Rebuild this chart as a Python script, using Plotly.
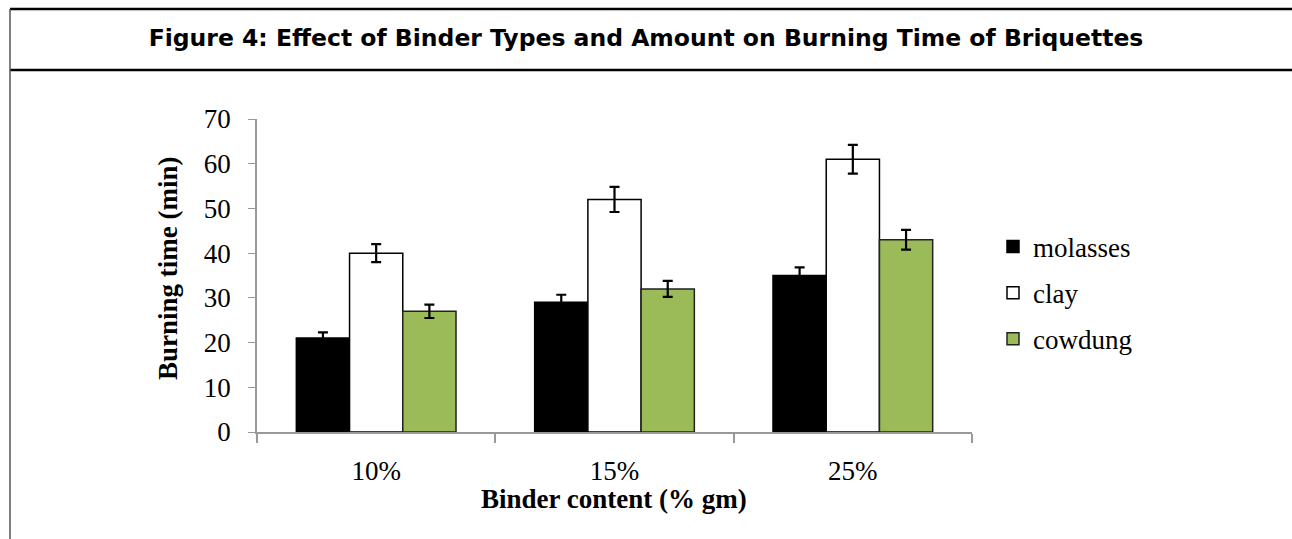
import plotly.graph_objects as go

categories = ["10%", "15%", "25%"]
series_names = ["molasses", "clay", "cowdung"]
molasses = [21, 29, 35]
clay = [40, 52, 61]
cowdung = [27, 32, 43]
molasses_err = [1.3, 1.7, 1.8]
clay_err = [2.0, 2.8, 3.2]
cowdung_err = [1.5, 1.8, 2.2]
y_ticks = [0, 10, 20, 30, 40, 50, 60, 70]

values = [molasses, clay, cowdung]
errors = [molasses_err, clay_err, cowdung_err]
fills = ["#000000", "#FFFFFF", "#9BBB59"]
lines = ["#000000", "#000000", "#222222"]

serif = "Liberation Serif, Times New Roman, serif"
FS = 27

fig = go.Figure()
for name, vals, errs, fc, lc in zip(series_names, values, errors, fills, lines):
    fig.add_trace(go.Bar(
        x=categories, y=vals, name=name, legendgroup=name,
        marker=dict(color=fc, line=dict(color=lc, width=1.5)),
        error_y=dict(type="data", array=errs, visible=True,
                     color="#000000", thickness=2.2, width=5),
    ))

W, H = 1292, 539
L, R, T, B = 257, 320, 119, 107
ph = H - T - B
pw = W - L - R

def py(p):
    return (H - B - p) / ph

def px(p):
    return (p - L) / pw

fig.update_layout(
    width=W, height=H,
    margin=dict(l=L, r=R, t=T, b=B),
    paper_bgcolor="white", plot_bgcolor="white",
    barmode="group", bargap=0.33, bargroupgap=0,
    title=dict(text="<b>Figure 4: Effect of Binder Types and Amount on Burning Time of Briquettes</b>",
               x=0.5, xanchor="center", y=1 - 38 / H, yanchor="middle",
               font=dict(family="DejaVu Sans, Verdana, sans-serif", size=23.5, color="#000000")),
    legend=dict(x=px(993), xanchor="left", y=py(293), yanchor="middle",
                font=dict(family=serif, size=FS, color="#000000"),
                tracegroupgap=8, bgcolor="rgba(0,0,0,0)"),
    showlegend=True,
    xaxis=dict(
        showline=True, linecolor="#999999", linewidth=2,
        ticks="outside", tickson="boundaries", ticklen=9, tickcolor="#999999", tickwidth=1.5,
        tickfont=dict(family=serif, size=FS, color="#000000"),
        ticklabelstandoff=14,
        showgrid=False,
    ),
    yaxis=dict(
        range=[0, 70], tickvals=y_ticks, showline=True, linecolor="#999999", linewidth=1.5,
        ticks="outside", ticklen=7, tickcolor="#999999",
        tickfont=dict(family=serif, size=FS, color="#000000"),
        ticklabelstandoff=12,
        showgrid=False, zeroline=False,
    ),
    annotations=[
        dict(text="<b>Binder content (% gm)</b>", xref="paper", yref="paper",
             x=px(614), y=py(499), xanchor="center", yanchor="middle", showarrow=False,
             font=dict(family=serif, size=FS, color="#000000")),
        dict(text="<b>Burning time (min)</b>", xref="paper", yref="paper",
             x=px(168), y=py(268), xanchor="center", yanchor="middle", showarrow=False,
             textangle=-90, font=dict(family=serif, size=FS, color="#000000")),
    ],
)

# frame of the title box and the chart box
fig.add_shape(type="line", xref="paper", yref="paper", x0=px(10), x1=px(W + 20), y0=py(9), y1=py(9),
              line=dict(color="#000000", width=2.5), layer="above")
fig.add_shape(type="line", xref="paper", yref="paper", x0=px(10), x1=px(W + 20), y0=py(70), y1=py(70),
              line=dict(color="#000000", width=2.5), layer="above")
fig.add_shape(type="line", xref="paper", yref="paper", x0=px(10), x1=px(10), y0=py(9), y1=py(H + 5),
              line=dict(color="#555555", width=1.5))

fig.write_html("out.html", config={"displayModeBar": False},
               post_script="document.body.style.margin='0';")
